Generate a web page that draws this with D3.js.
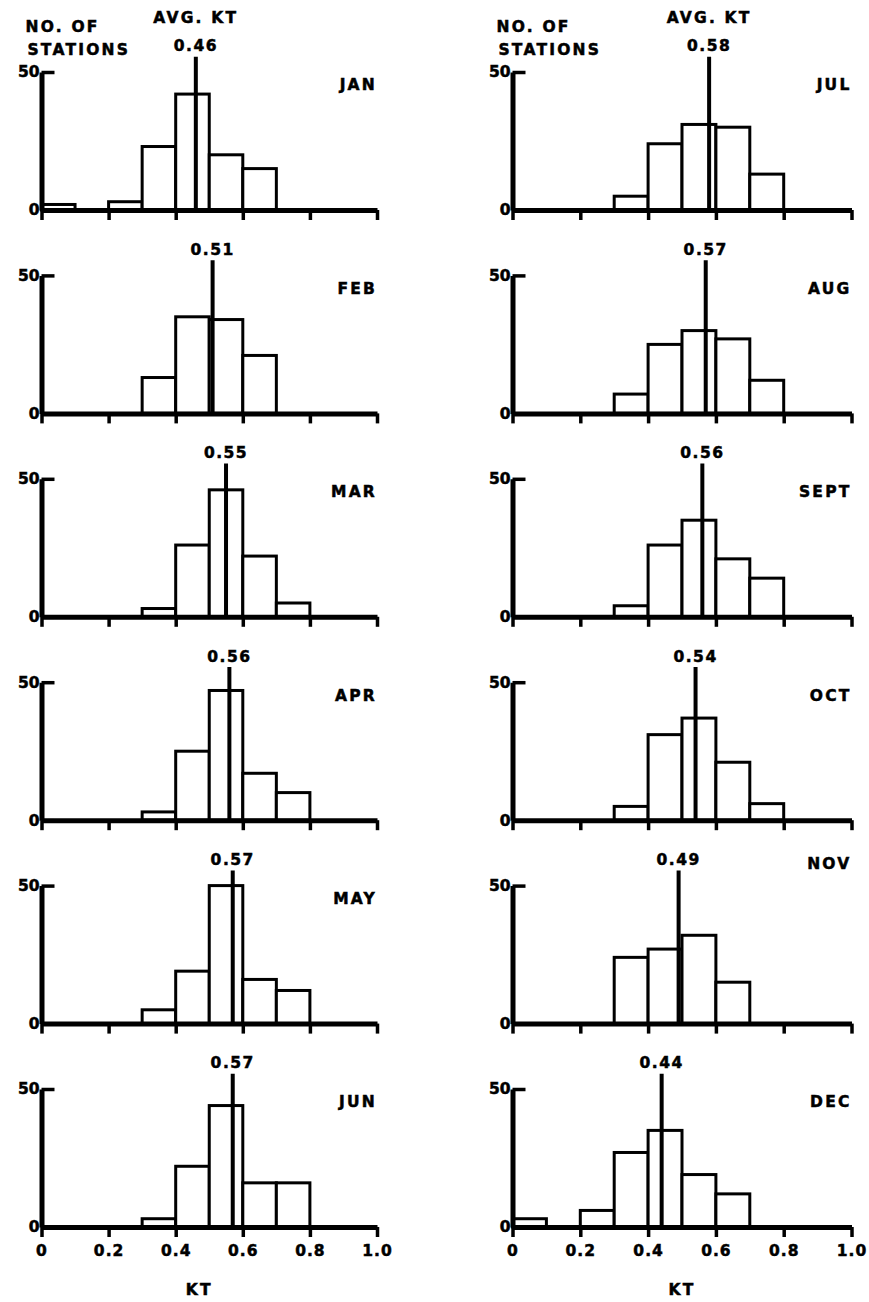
<!DOCTYPE html>
<html>
<head>
<meta charset="utf-8">
<script src="https://cdn.jsdelivr.net/npm/d3@7"></script>
<style>
body { margin: 0; background: #fff; }
text { font-family: "DejaVu Sans", sans-serif; font-weight: bold; fill: #000; stroke: #000; stroke-width: 0.5px; }
</style>
</head>
<body>
<div id="chart"></div>
<script>
// histogram of stations per KT bin (0.1 wide)
const months = ['JAN', 'FEB', 'MAR', 'APR', 'MAY', 'JUN', 'JUL', 'AUG', 'SEPT', 'OCT', 'NOV', 'DEC'];
const avgKt = [0.46, 0.51, 0.55, 0.56, 0.57, 0.57, 0.58, 0.57, 0.56, 0.54, 0.49, 0.44];
const binStarts = [0, 0.1, 0.2, 0.3, 0.4, 0.5, 0.6, 0.7, 0.8, 0.9];

const janCounts  = [2, 0, 3, 23, 42, 20, 15, 0, 0, 0];
const febCounts  = [0, 0, 0, 13, 35, 34, 21, 0, 0, 0];
const marCounts  = [0, 0, 0, 3, 26, 46, 22, 5, 0, 0];
const aprCounts  = [0, 0, 0, 3, 25, 47, 17, 10, 0, 0];
const mayCounts  = [0, 0, 0, 5, 19, 50, 16, 12, 0, 0];
const junCounts  = [0, 0, 0, 3, 22, 44, 16, 16, 0, 0];
const julCounts  = [0, 0, 0, 5, 24, 31, 30, 13, 0, 0];
const augCounts  = [0, 0, 0, 7, 25, 30, 27, 12, 0, 0];
const septCounts = [0, 0, 0, 4, 26, 35, 21, 14, 0, 0];
const octCounts  = [0, 0, 0, 5, 31, 37, 21, 6, 0, 0];
const novCounts  = [0, 0, 0, 24, 27, 32, 15, 0, 0, 0];
const decCounts  = [3, 0, 6, 27, 35, 19, 12, 0, 0, 0];

const xTicks = [0, 0.2, 0.4, 0.6, 0.8, 1.0];
const xTickLabels = ['0', '0.2', '0.4', '0.6', '0.8', '1.0'];
const yTicks = [0, 50];

const allCounts = [janCounts, febCounts, marCounts, aprCounts, mayCounts, junCounts,
                   julCounts, augCounts, septCounts, octCounts, novCounts, decCounts];

const width = 869;
const height = 1302;
const binWidth = 0.1;
const avgLineTop = 55.5;
const fontSize = 15.5;
const spacing = 2.2;

const columns = [
    { x0: 41.5, x1: 377, kt: 0.47 },
    { x0: 512.5, x1: 851.5, kt: 0.5 }
];
const firstBaseline = 210;
const rowStep = 203.4;
const fiftyHeight = 138;

const svg = d3.select('#chart')
    .append('svg')
        .attr('width', width)
        .attr('height', height)
        .style('background', '#fff');

months.forEach((month, i) => {
    const col = Math.floor(i / 6);
    const row = i % 6;
    const baseline = firstBaseline + row * rowStep;

    const x = d3.scaleLinear().domain([0, 1]).range([columns[col].x0, columns[col].x1]);
    const y = d3.scaleLinear().domain([0, 50]).range([baseline, baseline - fiftyHeight]);

    const g = svg.append('g').attr('class', 'panel');

    // bars
    const bins = binStarts.map((b, j) => ({ start: b, count: allCounts[i][j] }))
        .filter(d => d.count > 0);

    g.selectAll('rect')
        .data(bins)
        .join('rect')
            .attr('x', d => x(d.start))
            .attr('width', d => x(d.start + binWidth) - x(d.start))
            .attr('y', d => y(d.count))
            .attr('height', d => y(0) - y(d.count))
            .attr('fill', '#fff')
            .attr('stroke', '#000')
            .attr('stroke-width', 3);

    // average line
    g.append('line')
        .attr('x1', x(avgKt[i]))
        .attr('x2', x(avgKt[i]))
        .attr('y1', y(0))
        .attr('y2', y(avgLineTop))
        .attr('stroke', '#000')
        .attr('stroke-width', 4);

    // x axis
    const xAxis = d3.axisBottom(x)
        .tickValues(xTicks)
        .tickSize(10)
        .tickSizeOuter(0)
        .tickPadding(8)
        .tickFormat((d, k) => row === 5 ? xTickLabels[k] : '');

    const gx = g.append('g')
        .attr('transform', `translate(0,${baseline})`)
        .call(xAxis);
    gx.select('.domain').attr('stroke-width', 5).attr('stroke', '#000');
    gx.selectAll('.tick line').attr('stroke-width', 3.5).attr('stroke', '#000');
    gx.selectAll('.tick text')
        .attr('font-size', fontSize)
        .attr('letter-spacing', 1)
        .attr('font-family', null);

    // y axis
    const yAxis = d3.axisLeft(y)
        .tickValues(yTicks)
        .tickSize(-13)
        .tickSizeOuter(0)
        .tickPadding(2);

    const gy = g.append('g')
        .attr('transform', `translate(${columns[col].x0},0)`)
        .call(yAxis);
    gy.select('.domain').attr('stroke-width', 5).attr('stroke', '#000');
    gy.selectAll('.tick line').attr('stroke-width', 3.5).attr('stroke', '#000');
    gy.selectAll('.tick text')
        .attr('font-size', fontSize)
        .attr('font-family', null);

    // month label
    g.append('text')
        .attr('x', x(1))
        .attr('y', month === 'NOV' ? baseline - 160 : baseline - 125)
        .attr('dy', '0.35em')
        .attr('text-anchor', 'end')
        .attr('font-size', fontSize)
        .attr('letter-spacing', spacing)
        .text(month);

    // average value
    g.append('text')
        .attr('x', x(avgKt[i]))
        .attr('y', baseline - 164)
        .attr('dy', '0.35em')
        .attr('text-anchor', 'middle')
        .attr('font-size', fontSize)
        .attr('letter-spacing', 1.5)
        .text(avgKt[i].toFixed(2));

    if (row === 0) {
        g.append('text')
            .attr('x', x(avgKt[i]))
            .attr('y', baseline - 192)
            .attr('dy', '0.35em')
            .attr('text-anchor', 'middle')
            .attr('font-size', fontSize)
            .attr('letter-spacing', spacing)
            .text('AVG. KT');

        g.append('text')
            .attr('x', columns[col].x0 - 16)
            .attr('y', baseline - 183)
            .attr('dy', '0.35em')
            .attr('font-size', fontSize)
            .attr('letter-spacing', spacing)
            .text('NO. OF');

        g.append('text')
            .attr('x', columns[col].x0 - 14)
            .attr('y', baseline - 160)
            .attr('dy', '0.35em')
            .attr('font-size', fontSize)
            .attr('letter-spacing', spacing)
            .text('STATIONS');
    }

    if (row === 5) {
        g.append('text')
            .attr('x', x(columns[col].kt))
            .attr('y', baseline + 63)
            .attr('dy', '0.35em')
            .attr('text-anchor', 'middle')
            .attr('font-size', fontSize)
            .attr('letter-spacing', spacing)
            .text('KT');
    }
});
</script>
</body>
</html>
